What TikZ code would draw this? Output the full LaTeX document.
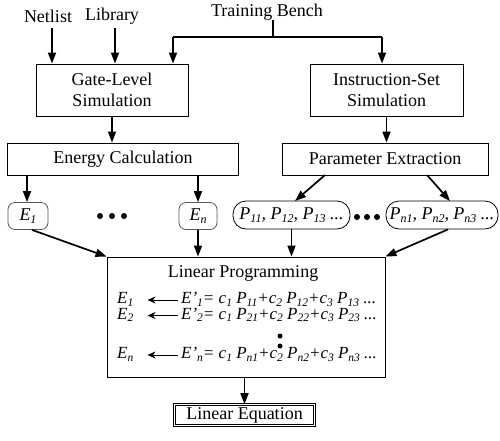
\documentclass[tikz,border=0pt]{standalone}
\usepackage{fontspec}
\setmainfont{Liberation Serif}
\usetikzlibrary{arrows.meta}
\newcommand{\sbx}[1]{\raisebox{-0.35ex}{\fontsize{12}{12}\selectfont #1}}
\newcommand{\sbe}[1]{\raisebox{-0.35ex}{\fontsize{11.5}{11.5}\selectfont #1}}
\begin{document}
\begin{tikzpicture}[x=1pt,y=-1pt,
  font=\fontsize{18}{21}\selectfont,
  box/.style={draw, line width=0.9pt, inner sep=0pt, align=center},
  ebox/.style={draw=black!65, line width=0.8pt, rounded corners=7pt, inner sep=0pt, minimum height=27pt},
  pbox/.style={draw, line width=0.8pt, rounded corners=13pt, inner sep=0pt, minimum height=28pt},
  arr/.style={line width=1.7pt, -{Triangle[length=11pt,width=8pt]}},
  plain/.style={line width=1.7pt},
  sarr/.style={line width=0.9pt, -{Stealth[length=8pt,width=7pt]}},
  dotn/.style={circle, fill, inner sep=0pt, minimum size=6pt},
  vdot/.style={circle, fill, inner sep=0pt, minimum size=5pt},
  txt/.style={inner sep=0pt},
  eqn/.style={inner sep=0pt, anchor=west, text height=10pt, text depth=3pt, font=\fontsize{17}{18}\selectfont\itshape}]
\useasboundingbox (0,0) rectangle (500,440);

% inputs
\node[txt] (net) at (48,16) {Netlist};
\node[txt] (lib) at (112,16) {Library};
\node[txt] (tb) at (267,12) {Training Bench};

% boxes
\node[box, minimum width=152pt, minimum height=52pt] (gate) at (112,90) {Gate-Level\\Simulation};
\node[box, minimum width=153pt, minimum height=52pt] (iss) at (386.5,90) {Instruction-Set\\Simulation};
\node[box, minimum width=231pt, minimum height=32pt] (energy) at (123,159) {Energy Calculation};
\node[box, minimum width=206pt, minimum height=32pt] (param) at (385,159) {Parameter Extraction};

% E and P nodes
\node[ebox, minimum width=40pt] (e1) at (28,216) {\itshape E\sbx{1}};
\node[ebox, minimum width=38pt] (en) at (198,216) {\itshape E\sbx{n}};
\node[pbox, minimum width=117pt] (p1) at (291.5,215) {\itshape P\sbx{11}, P\sbx{12}, P\sbx{13} ...};
\node[pbox, minimum width=112pt] (pn) at (442,215) {\itshape P\sbx{n1}, P\sbx{n2}, P\sbx{n3} ...};

\node[dotn] (da1) at (100,216) {};
\node[dotn] (da2) at (112,216) {};
\node[dotn] (da3) at (124,216) {};
\node[dotn] (db1) at (357,217) {};
\node[dotn] (db2) at (367,217) {};
\node[dotn] (db3) at (377,217) {};

% Linear programming
\node[box, minimum width=278pt, minimum height=120pt] (lp) at (246,317) {};
\node[txt] (lpt) at (243,273) {Linear Programming};
\node[eqn] (l1) at (117,300) {E\sbe{1}};
\node[eqn] (l2) at (117,315.5) {E\sbe{2}};
\node[eqn] (ln) at (117,355) {E\sbe{n}};
\node[eqn] (r1) at (181,300) {E'\sbe{1}= c\sbe{1} P\sbe{11}+c\sbe{2} P\sbe{12}+c\sbe{3} P\sbe{13} ...};
\node[eqn] (r2) at (181,315.5) {E'\sbe{2}= c\sbe{1} P\sbe{21}+c\sbe{2} P\sbe{22}+c\sbe{3} P\sbe{23} ...};
\node[eqn] (rn) at (181,355) {E'\sbe{n}= c\sbe{1} P\sbe{n1}+c\sbe{2} P\sbe{n2}+c\sbe{3} P\sbe{n3} ...};
\node[vdot] (v1) at (280,336) {};
\node[vdot] (v2) at (280,346) {};

\node[box, double, double distance=1.8pt, line width=0.7pt, minimum width=140pt, minimum height=21pt] (le) at (244.5,415) {Linear Equation};

% connectors
\coordinate (cn) at (52,28);
\coordinate (cl) at (115,28);
\coordinate (j) at (273,37);
\coordinate (jl) at (173,37);
\coordinate (jr) at (382,37);
\draw[arr] (cn) -- (cn |- gate.north);
\draw[arr] (cl) -- (cl |- gate.north);
\draw[plain] (tb.south -| j) -- (j);
\draw[plain] (jl) -- (jr);
\draw[arr] (jl) -- (jl |- gate.north);
\draw[arr] (jr) -- (jr |- iss.north);

\draw[arr] (gate.south) -- (gate.south |- energy.north);
\draw[arr] (iss.south) -- (iss.south |- param.north);

\coordinate (xe1) at (27,0);
\draw[arr] (energy.south -| xe1) -- (e1.north -| xe1);
\draw[arr] (energy.south -| en) -- (en.north);

\coordinate (pa) at (325,175);
\coordinate (pb) at (295,201);
\coordinate (pc) at (427,175);
\coordinate (pd) at (450,201);
\draw[arr] (pa) -- (pb);
\draw[arr] (pc) -- (pd);

\coordinate (xe1b) at (32,0);
\coordinate (xpnb) at (448,0);
\draw[arr] (e1.south -| xe1b) -- (lp.north west);
\draw[arr] (en.south) -- (en.south |- lp.north);
\draw[arr] (p1.south) -- (p1.south |- lp.north);
\draw[arr] (pn.south -| xpnb) -- (lp.north east);

\draw[sarr] ([xshift=-3pt]r1.west) -- ([xshift=14pt]l1.east);
\draw[sarr] ([xshift=-3pt]r2.west) -- ([xshift=14pt]l2.east);
\draw[sarr] ([xshift=-3pt]rn.west) -- ([xshift=14pt]ln.east);

\draw[arr] (le.north |- lp.south) -- (le.north);
\end{tikzpicture}
\end{document}
